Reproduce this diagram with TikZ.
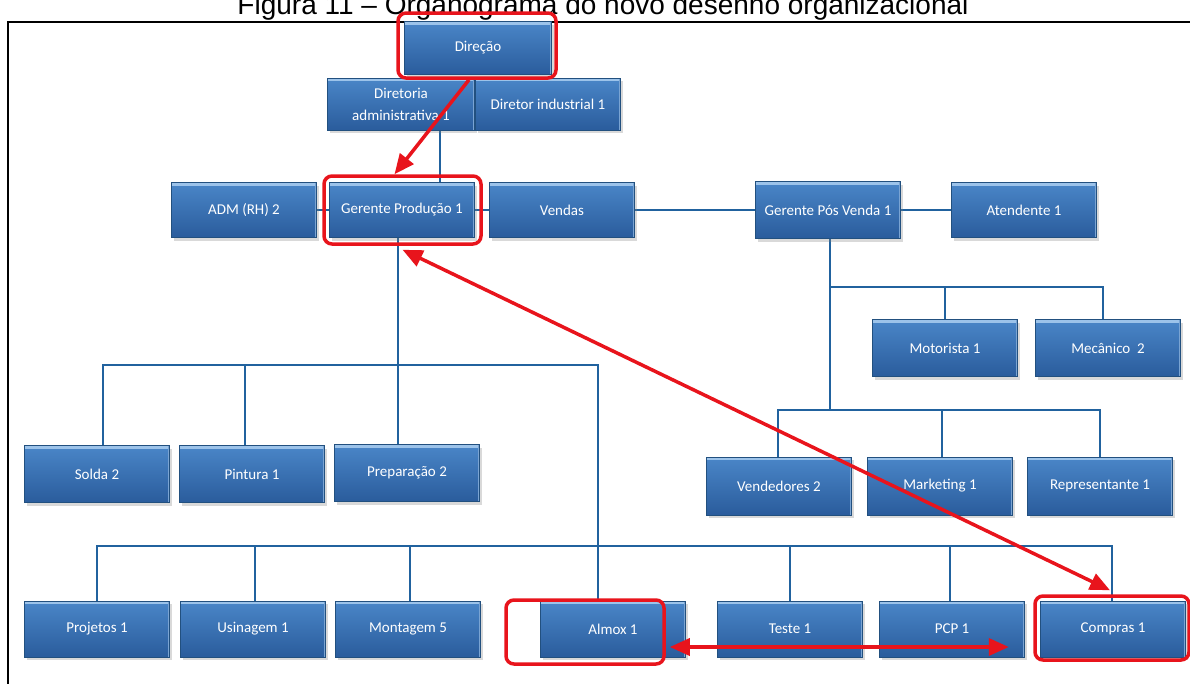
\documentclass[tikz,border=0pt]{standalone}
\usepackage{fontspec}
\newfontfamily\boxfont{Carlito}
\newfontfamily\titlefont{Liberation Sans}
\usetikzlibrary{shadows,arrows.meta,calc}
\definecolor{boxtop}{HTML}{4A86C8}
\definecolor{boxbot}{HTML}{2A5C9C}
\definecolor{boxedge}{HTML}{22507F}
\definecolor{boxhi}{HTML}{9CC3EA}
\definecolor{connblue}{HTML}{21629E}
\definecolor{hlred}{HTML}{E8141C}
\pgfdeclarelayer{bg}
\pgfsetlayers{bg,main}
\begin{document}
\begin{tikzpicture}[x=1pt,y=-1pt,
  unit/.style={minimum width=145, minimum height=55, inner sep=2pt,
    text=white, align=center, font=\boxfont\fontsize{15}{22}\selectfont,
    top color=boxtop, bottom color=boxbot, draw=boxedge, line width=0.6pt,
    drop shadow={opacity=0.3, shadow xshift=2pt, shadow yshift=-3pt},
    path picture={
      \draw[boxhi, line width=3pt]
        ([yshift=-1.5pt]path picture bounding box.north west) --
        ([yshift=-1.5pt]path picture bounding box.north east);
      \draw[boxhi!70!boxbot, line width=2pt]
        ([xshift=-1pt]path picture bounding box.north east) --
        ([xshift=-1pt]path picture bounding box.south east);}},
  conn/.style={draw=connblue, line width=2.6pt},
  hl/.style={draw=hlred, line width=3.5pt, rounded corners=8pt, inner sep=0pt},
  redarrow/.style={draw=hlred, line width=3.5pt,
    -{Triangle[length=20pt,width=17pt]}},
  dblarrow/.style={draw=hlred, line width=3.5pt,
    {Triangle[length=20pt,width=17pt]}-{Triangle[length=20pt,width=17pt]}},
  ]
\useasboundingbox (0,0) rectangle (1190,683);

% caption and frame
\node[font=\titlefont\fontsize{28}{30}\selectfont, anchor=base] (title) at (603,14)
  {Figura 11 – Organograma do novo desenho organizacional};
\draw[line width=1.6pt] (8,700) -- (8,22) -- (1210,22);

% top of the chart
\node[unit, minimum width=147, minimum height=53] (dir) at (478,48) {Direção};
\node[unit, minimum width=147, minimum height=52] (dadm) at (401,104) {Diretoria\\administrativa 1};
\node[unit, minimum height=52] (dind) at (548,104) {Diretor industrial 1};

% managers row
\node[unit] (adm)  at (244,210) {ADM (RH) 2};
\node[unit] (gp)   at (402,210) {Gerente Produção 1};
\node[unit] (vend) at (562,210) {Vendas};
\node[unit, minimum height=57] (gpv)  at (828,210) {Gerente Pós Venda 1};
\node[unit] (aten) at (1024,210) {Atendente 1};

% after-sales staff
\node[unit, minimum height=57] (mot) at (945,348) {Motorista 1};
\node[unit, minimum height=57] (mec) at (1108,348) {Mecânico\ \ 2};
\node[unit, minimum height=58] (vdd) at (779,486) {Vendedores 2};
\node[unit, minimum height=58] (mkt) at (940,486) {Marketing 1};
\node[unit, minimum height=58] (rep) at (1100,486) {Representante 1};

% production staff
\node[unit, minimum height=57] (solda) at (97,474) {Solda 2};
\node[unit, minimum height=57] (pint)  at (252,474) {Pintura 1};
\node[unit, minimum height=57] (prep)  at (407,473) {Preparação 2};

\node[unit, minimum height=56] (proj)  at (97,629) {Projetos 1};
\node[unit, minimum height=56] (usi)   at (253,629) {Usinagem 1};
\node[unit, minimum height=56] (mont)  at (408,629) {Montagem 5};
\node[unit, minimum height=56] (almox) at (613,629) {Almox 1};
\node[unit, minimum height=56] (teste) at (790,629) {Teste 1};
\node[unit, minimum height=56] (pcp)   at (952,629) {PCP 1};
\node[unit, minimum height=56] (comp)  at (1113,629) {Compras 1};

% blue connectors
\begin{pgfonlayer}{bg}
\draw[conn] (440,0 |- dadm.south) -- (440,0 |- gp.north);
\draw[conn] (adm.east) -- (gp.west);
\draw[conn] (gp.east) -- (vend.west);
\draw[conn] (vend.east) -- (gpv.west);
\draw[conn] (gpv.east) -- (aten.west);

\draw[conn] (398,0 |- gp.south) -- (398,0 |- prep.north);
\draw[conn] (103,0 |- solda.north) -- (103,365) -- (598,365) -- (598,0 |- almox.north);
\draw[conn] (245,365) -- (245,0 |- pint.north);

\draw[conn] (97,0 |- proj.north) -- (97,546) -- (1112,546) -- (1112,0 |- comp.north);
\draw[conn] (255,546) -- (255,0 |- usi.north);
\draw[conn] (410,546) -- (410,0 |- mont.north);
\draw[conn] (790,546) -- (790,0 |- teste.north);
\draw[conn] (950,546) -- (950,0 |- pcp.north);

\draw[conn] (830,0 |- gpv.south) -- (830,410);
\draw[conn] (830,287) -- (1103,287) -- (1103,0 |- mec.north);
\draw[conn] (945,287) -- (945,0 |- mot.north);
\draw[conn] (778,0 |- vdd.north) -- (778,410) -- (1100,410) -- (1100,0 |- rep.north);
\draw[conn] (942,410) -- (942,0 |- mkt.north);
\end{pgfonlayer}

% red highlights
\node[hl, minimum width=158, minimum height=65] (hlDir)   at (477,45.5) {};
\node[hl, minimum width=157, minimum height=68] (hlGP)    at (402.5,210) {};
\node[hl, minimum width=158, minimum height=64] (hlAlmox) at (585,632) {};
\node[hl, minimum width=154, minimum height=64] (hlComp)  at (1112,628) {};

% red arrows
\draw[redarrow] ([xshift=-8pt]hlDir.south) -- ([xshift=-8pt]hlGP.north);
\draw[dblarrow] ([yshift=-4pt]hlGP.south) -- ([xshift=-2pt,yshift=4pt]hlComp.north);
\draw[dblarrow] ([xshift=4pt,yshift=-15pt]hlAlmox.east) -- ([xshift=-16pt,yshift=-18pt]pcp.east);
\end{tikzpicture}
\end{document}
